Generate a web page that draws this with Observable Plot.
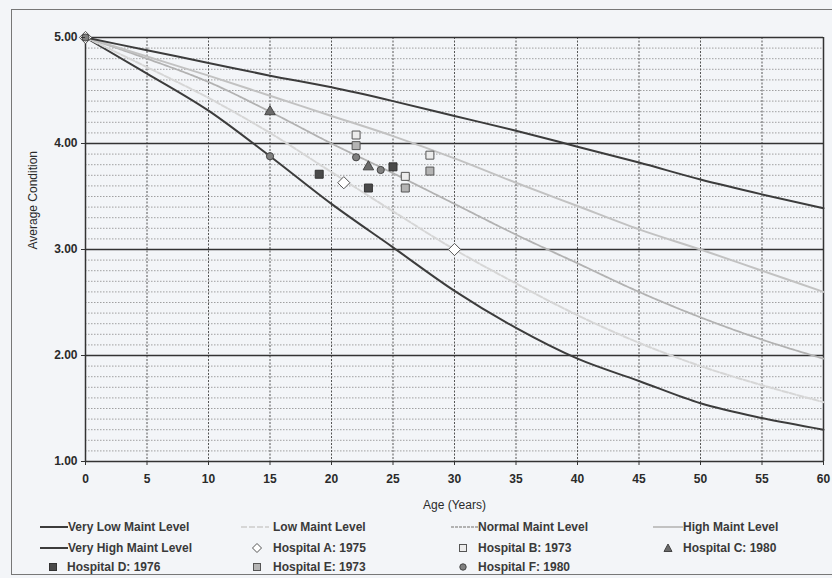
<!DOCTYPE html>
<html>
<head>
<meta charset="utf-8">
<script src="https://cdn.jsdelivr.net/npm/d3@7"></script>
<script src="https://cdn.jsdelivr.net/npm/@observablehq/plot@0.6"></script>
<style>
  html, body { margin: 0; padding: 0; background: #f3f5f8; }
  body { width: 832px; height: 578px; position: relative; overflow: hidden; font-family: "Liberation Sans", Arial, sans-serif; }
  #box { position: absolute; left: 11px; top: 9px; width: 840px; height: 566px; border: 1px solid #777; box-sizing: border-box; pointer-events: none; }
  #chart { position: absolute; left: 0; top: 0; }
  #legend { position: absolute; left: 0; top: 515px; width: 832px; height: 63px; font-size: 12px; font-weight: bold; color: #3a3a3a; }
  .item { position: absolute; display: flex; align-items: center; height: 16px; white-space: nowrap; }
  .item svg { display: block; }
</style>
</head>
<body>
<div id="chart"></div>
<div id="legend"></div>
<div id="box"></div>
<script>
// ---- data ----
const ages = [0, 5, 10, 15, 20, 25, 30, 35, 40, 45, 50, 55, 60];
const veryLow  = [5, 4.66, 4.31, 3.88, 3.43, 3.02, 2.61, 2.26, 1.97, 1.76, 1.55, 1.41, 1.30];
const low      = [5, 4.72, 4.43, 4.10, 3.73, 3.36, 3.00, 2.68, 2.38, 2.12, 1.90, 1.72, 1.56];
const normal   = [5, 4.80, 4.58, 4.30, 4.00, 3.72, 3.43, 3.14, 2.87, 2.60, 2.36, 2.15, 1.97];
const high     = [5, 4.82, 4.64, 4.45, 4.26, 4.07, 3.86, 3.63, 3.41, 3.19, 3.00, 2.80, 2.60];
const veryHigh = [5, 4.88, 4.76, 4.64, 4.53, 4.40, 4.26, 4.12, 3.97, 3.82, 3.66, 3.52, 3.39];

const hospitalA = [[0, 5.00], [21, 3.63], [30, 3.00]];
const hospitalB = [[22, 4.08], [26, 3.69], [28, 3.89]];
const hospitalC = [[15, 4.30], [23, 3.78]];
const hospitalD = [[19, 3.71], [23, 3.58], [25, 3.78]];
const hospitalE = [[22, 3.98], [26, 3.58], [28, 3.74]];
const hospitalF = [[0, 5.00], [15, 3.88], [22, 3.87], [24, 3.75]];

const seriesNames = ["Very Low Maint Level", "Low Maint Level", "Normal Maint Level", "High Maint Level", "Very High Maint Level"];
const hospitalNames = ["Hospital A: 1975", "Hospital B: 1973", "Hospital C: 1980", "Hospital D: 1976", "Hospital E: 1973", "Hospital F: 1980"];
const xTicks = [0, 5, 10, 15, 20, 25, 30, 35, 40, 45, 50, 55, 60];
const yTicks = [1, 2, 3, 4, 5];
const xLabel = "Age (Years)";
const yLabel = "Average Condition";

// ---- styles ----
const lineStyles = [
  {stroke: "#3c3c3c", strokeWidth: 2, strokeDasharray: null},
  {stroke: "#d6d6d6", strokeWidth: 2, strokeDasharray: "6,2"},
  {stroke: "#b2b2b2", strokeWidth: 1.8, strokeDasharray: "3,1"},
  {stroke: "#c2c2c2", strokeWidth: 2, strokeDasharray: null},
  {stroke: "#3c3c3c", strokeWidth: 2, strokeDasharray: null}
];
const seriesValues = [veryLow, low, normal, high, veryHigh];
const lineData = seriesValues.flatMap((vals, i) => ages.map((a, j) => ({age: a, cond: vals[j], s: seriesNames[i]})));

const hospitals = [hospitalA, hospitalB, hospitalC, hospitalD, hospitalE, hospitalF];
const hospStyles = [
  {symbol: "diamond2", r: 5.5, fill: "#ffffff", stroke: "#555", strokeWidth: 1},
  {symbol: "square", r: 4.5, fill: "#ececec", stroke: "#555", strokeWidth: 1},
  {symbol: "triangle", r: 3.9, fill: "#6a6a6a", stroke: "#444", strokeWidth: 1},
  {symbol: "square", r: 4.5, fill: "#4a4a4a", stroke: "#333", strokeWidth: 1},
  {symbol: "square", r: 4.5, fill: "#b4b4b4", stroke: "#555", strokeWidth: 1},
  {symbol: "circle", r: 3.6, fill: "#808080", stroke: "#444", strokeWidth: 1}
];
const pointData = hospitals.flatMap((pts, i) => pts.map(([a, c]) => ({age: a, cond: c, h: i})));

const minor = d3.range(10, 50).map(v => v / 10).filter(v => Math.abs(v - Math.round(v)) > 1e-6);

const chart = Plot.plot({
  width: 832,
  height: 515,
  marginLeft: 85,
  marginRight: 9,
  marginTop: 37,
  marginBottom: 54,
  style: {background: "transparent", fontFamily: "'Liberation Sans', Arial, sans-serif", fontSize: "12px", color: "#2a2a2a"},
  x: {domain: [0, 60]},
  y: {domain: [1, 5]},
  marks: [
    Plot.ruleY(minor, {stroke: "#8a8a8a", strokeWidth: 0.8, strokeDasharray: "1.5,1.5"}),
    Plot.ruleX(xTicks.filter(t => t > 0 && t < 60), {stroke: "#555", strokeWidth: 1, strokeDasharray: "2,1.5"}),
    Plot.ruleY(yTicks, {stroke: "#333", strokeWidth: 1.5}),
    Plot.ruleX([0, 60], {stroke: "#333", strokeWidth: 1.5}),
    ...seriesNames.map((name, i) => Plot.line(lineData.filter(d => d.s === name), {
      x: "age", y: "cond", curve: "monotone-x", ...lineStyles[i]
    })),
    ...hospStyles.map((st, i) => Plot.dot(pointData.filter(d => d.h === i), {x: "age", y: "cond", ...st})),
    Plot.axisX({ticks: xTicks, tickSize: 4, tickPadding: 9, label: null, fontWeight: "bold", fontSize: 12, stroke: "#333"}),
    Plot.axisY({ticks: yTicks, tickSize: 4, tickPadding: 4, tickFormat: d => d.toFixed(2), label: null, fontWeight: "bold", fontSize: 12, stroke: "#333"}),
    Plot.text([xLabel], {text: d => d, frameAnchor: "bottom", dy: 47, fontSize: 12, fill: "#2a2a2a"}),
    Plot.text([yLabel], {text: d => d, frameAnchor: "left", dx: -52, rotate: -90, fontSize: 12, fill: "#2a2a2a"})
  ]
});
document.getElementById("chart").appendChild(chart);

// ---- legend ----
const legend = document.getElementById("legend");
const rowsY = [4, 25, 44];
function addItem(x, y, svgInner, w, label, gap) {
  const div = document.createElement("div");
  div.className = "item";
  div.style.left = x + "px";
  div.style.top = y + "px";
  div.innerHTML = `<svg width="${w}" height="16">${svgInner}</svg><span style="margin-left:${gap}px">${label}</span>`;
  legend.appendChild(div);
}
function lineSvg(st, w) {
  return `<line x1="0" x2="${w}" y1="8" y2="8" stroke="${st.stroke}" stroke-width="${st.strokeWidth}" ${st.strokeDasharray ? `stroke-dasharray="${st.strokeDasharray}"` : ""}/>`;
}
function markerSvg(i, w) {
  const st = hospStyles[i], cx = w / 2, cy = 8;
  const a = `fill="${st.fill}" stroke="${st.stroke}" stroke-width="1"`;
  if (st.symbol === "diamond2") return `<path d="M${cx},${cy-4.5}L${cx+4.5},${cy}L${cx},${cy+4.5}L${cx-4.5},${cy}Z" ${a}/>`;
  if (st.symbol === "square") return `<rect x="${cx-3.5}" y="${cy-3.5}" width="7" height="7" ${a}/>`;
  if (st.symbol === "triangle") return `<path d="M${cx},${cy-4}L${cx+4},${cy+3.5}L${cx-4},${cy+3.5}Z" ${a}/>`;
  return `<circle cx="${cx}" cy="${cy}" r="3.2" ${a}/>`;
}
// column 1
addItem(40, rowsY[0], lineSvg(lineStyles[0], 28), 28, seriesNames[0], 0);
addItem(40, rowsY[1], lineSvg(lineStyles[4], 28), 28, seriesNames[4], 0);
addItem(46, rowsY[2], markerSvg(3, 14), 14, hospitalNames[3], 7);
// column 2
addItem(241, rowsY[0], lineSvg(lineStyles[1], 28), 28, seriesNames[1], 4);
addItem(250, rowsY[1], markerSvg(0, 14), 14, hospitalNames[0], 9);
addItem(250, rowsY[2], markerSvg(4, 14), 14, hospitalNames[4], 9);
// column 3
addItem(451, rowsY[0], lineSvg(lineStyles[2], 27), 27, seriesNames[2], 0);
addItem(456, rowsY[1], markerSvg(1, 14), 14, hospitalNames[1], 8);
addItem(456, rowsY[2], markerSvg(5, 14), 14, hospitalNames[5], 8);
// column 4
addItem(653, rowsY[0], lineSvg(lineStyles[3], 30), 30, seriesNames[3], 0);
addItem(661, rowsY[1], markerSvg(2, 14), 14, hospitalNames[2], 8);
</script>
</body>
</html>
